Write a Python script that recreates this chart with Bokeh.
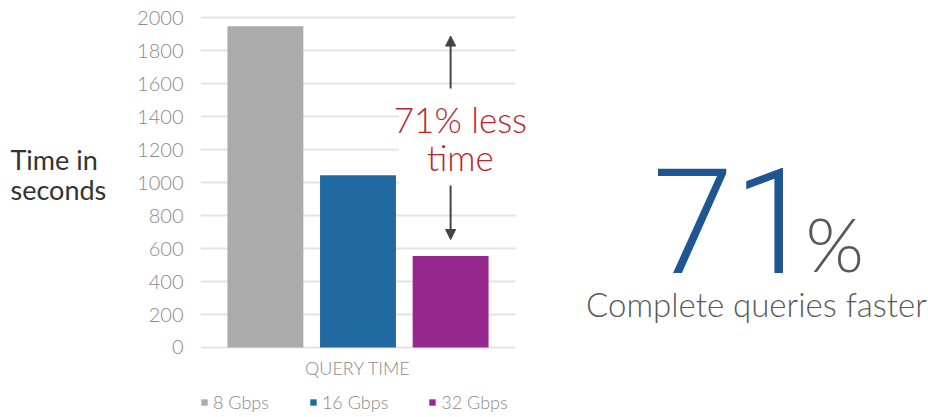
from bokeh.plotting import figure
from bokeh.layouts import row
from bokeh.models import (Range1d, ColumnDataSource, FixedTicker, Label, BoxAnnotation,
                          Arrow, NormalHead, Legend, LegendItem)
from bokeh.embed import file_html
from bokeh.resources import INLINE

# ---- data ----
category = "QUERY TIME"
series = ["8 Gbps", "16 Gbps", "32 Gbps"]
values = [1950, 1045, 555]
colors = ["#ababab", "#206aa1", "#96298d"]
y_ticks = [0, 200, 400, 600, 800, 1000, 1200, 1400, 1600, 1800, 2000]
arrow_top = 1890
arrow_bottom = 655
big_number = "71"
callout_lines = ["71% less", "time"]
subtitle = "Complete queries faster"
y_title = "Time in\nseconds"

LIGHT = "'Lato Light', Lato"
REG = "Lato"
BIG = "'Roboto Light', Roboto"
H = 417


def blank_fig(w):
    f = figure(width=w, height=H, x_range=Range1d(0, w), y_range=Range1d(0, H),
               output_backend="svg", toolbar_location=None, min_border=0)
    f.xaxis.visible = False
    f.yaxis.visible = False
    f.outline_line_color = None
    f.grid.visible = False
    return f


# ---- left: y title ----
left = blank_fig(120)
left.add_layout(Label(x=10, y=H - 168, text=y_title, text_align="left",
                      text_baseline="middle", text_font=REG, text_font_size="27px",
                      text_color="#333333", text_line_height=0.93))

# ---- chart ----
offsets = [-0.294, 0.0, 0.294]
group_center = 0.5
p = figure(width=420, height=H, x_range=Range1d(0, 340 / 315), y_range=Range1d(-425, 2045),
           output_backend="svg", toolbar_location=None,
           min_border_left=80, min_border_right=0, min_border_top=10, min_border_bottom=0)
p.outline_line_color = None
p.xaxis.visible = False
p.xgrid.grid_line_color = None
p.ygrid.grid_line_color = "#e4e4e4"
p.ygrid.grid_line_width = 2
p.yaxis.ticker = FixedTicker(ticks=y_ticks)
p.yaxis.axis_line_color = None
p.yaxis.major_tick_out = 0
p.yaxis.major_tick_in = 0
p.yaxis.minor_tick_out = 0
p.yaxis.minor_tick_in = 0
p.yaxis.major_label_standoff = 17
p.yaxis.major_label_text_font = LIGHT
p.yaxis.major_label_text_font_size = "20px"
p.yaxis.major_label_text_color = "#8a8a8a"

items = []
for s, v, c, off in zip(series, values, colors, offsets):
    src = ColumnDataSource(dict(x=[group_center + off], val=[v]))
    r = p.vbar(x="x", top="val", bottom=0, width=0.241, source=src,
               fill_color=c, line_color=None)
    items.append(LegendItem(label=s, renderers=[r]))

ax = group_center + offsets[2]
head = dict(size=10, fill_color="#444444", line_color="#444444")
p.add_layout(Arrow(x_start=ax, y_start=arrow_bottom, x_end=ax, y_end=arrow_top,
                   line_color="#444444", line_width=2,
                   start=NormalHead(**head), end=NormalHead(**head)))

# white panel behind the call-out text, gridlines stop at the end of the category band
p.add_layout(BoxAnnotation(left=0.63, bottom=983, top=1572, fill_color="white",
                           fill_alpha=1, line_color=None))
p.add_layout(BoxAnnotation(left=1.0, fill_color="white", fill_alpha=1, line_color=None))

cx = 0.825
for txt, yb in zip(callout_lines, [H - 118, H - 156]):
    p.add_layout(Label(x=cx, y=yb, y_units="screen", text=txt, text_align="center",
                       text_baseline="alphabetic", text_font=LIGHT, text_font_size="35px",
                       text_color="#b5272d"))

p.add_layout(Label(x=group_center, y=50, y_units="screen", text=category,
                   text_align="center", text_baseline="middle", text_font=LIGHT,
                   text_font_size="18px", text_color="#8a8a8a"))

legend = Legend(items=items, orientation="horizontal", location=(0, 4),
                glyph_width=8, glyph_height=8, label_standoff=5, spacing=40,
                padding=0, margin=0, border_line_color=None, background_fill_alpha=0,
                label_text_font=LIGHT, label_text_font_size="18px",
                label_text_color="#8a8a8a", label_height=18)
p.add_layout(legend, "center")

# ---- right: headline ----
right = blank_fig(388)
right.add_layout(Label(x=652 - 540, y=H - 215, text=big_number, text_align="left",
                       text_baseline="alphabetic", text_font=BIG, text_font_size="146px",
                       text_color="#1f5591"))
right.add_layout(Label(x=805 - 540, y=H - 238, text="%", text_align="left",
                       text_baseline="alphabetic", text_font=LIGHT, text_font_size="75px",
                       text_color="#595959"))
right.add_layout(Label(x=756 - 540, y=H - 301, text=subtitle, text_align="center",
                       text_baseline="alphabetic", text_font=LIGHT, text_font_size="33px",
                       text_color="#595959"))

layout = row(left, p, right, spacing=0)
open("out.html", "w").write(file_html(layout, INLINE))
